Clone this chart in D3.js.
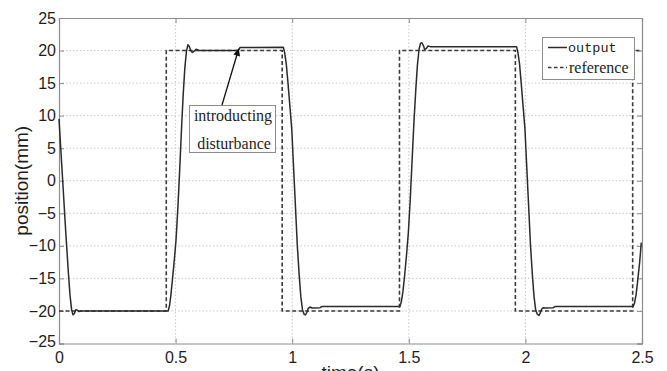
<!DOCTYPE html>
<html>
<head>
<meta charset="utf-8">
<script src="https://cdn.jsdelivr.net/npm/d3@7"></script>
<style>
  html, body { margin: 0; padding: 0; background: #fff; }
  svg { display: block; }
</style>
</head>
<body>
<svg id="chart" width="667" height="371"></svg>
<script>
// Tick values
const xTicks = [0, 0.5, 1, 1.5, 2, 2.5];
const xTickLabels = ["0", "0.5", "1", "1.5", "2", "2.5"];
const yTicks = [-25, -20, -15, -10, -5, 0, 5, 10, 15, 20, 25];

// Reference square wave (time in s, position in mm)
const refTime = [0, 0.46, 0.46, 0.957, 0.957, 1.46, 1.46, 1.957, 1.957, 2.46, 2.46, 2.5];
const refPos  = [-20, -20, 20, 20, -20, -20, 20, 20, -20, -20, 20, 20];

// Measured output position
const outTime = [
  0, 0.01, 0.02, 0.03, 0.04, 0.047, 0.054, 0.06, 0.066, 0.072, 0.079, 0.086, 0.095, 0.468,
  0.474, 0.48, 0.487, 0.495, 0.502, 0.51, 0.518, 0.526, 0.533, 0.54, 0.547, 0.553, 0.559,
  0.565, 0.572, 0.58, 0.588, 0.6, 0.769, 0.776, 0.962,
  0.968, 0.975, 0.982, 0.99, 0.998, 1.006, 1.014, 1.022, 1.03, 1.037, 1.044, 1.051, 1.057,
  1.063, 1.069, 1.076, 1.085, 1.12, 1.128, 1.462,
  1.468, 1.475, 1.482, 1.49, 1.498, 1.506, 1.514, 1.522, 1.53, 1.537, 1.544, 1.55, 1.556,
  1.562, 1.568, 1.575, 1.582, 1.592, 1.962,
  1.968, 1.975, 1.982, 1.99, 1.998, 2.006, 2.014, 2.022, 2.03, 2.037, 2.044, 2.051, 2.058,
  2.064, 2.07, 2.077, 2.085, 2.12, 2.128, 2.462,
  2.468, 2.475, 2.482, 2.49, 2.497
];
const outPos = [
  9.5, 3.5, -2.5, -8.5, -14, -17.5, -19.8, -20.6, -20.4, -19.8, -19.9, -20.1, -20, -20,
  -19.2, -17.5, -15, -12, -9, -4, 2, 8.5, 13.5, 17.5, 20, 20.9, 20.6,
  20.0, 19.7, 19.9, 20.2, 20, 20, 20.45, 20.5,
  19.6, 17.8, 15, 11.5, 8, 2, -4, -10, -14.5, -17.8, -19.8, -20.5, -20.6,
  -20.2, -19.6, -19.4, -19.55, -19.5, -19.3, -19.3,
  -18.6, -17, -14.6, -11.5, -8, -3, 3, 9, 14, 17.8, 20.2, 21.1, 21.2,
  20.8, 20.2, 20.3, 20.7, 20.6, 20.6,
  19.7, 17.9, 15, 11.5, 8, 2, -4, -10, -14.5, -17.8, -19.8, -20.5, -20.7,
  -20.3, -19.7, -19.5, -19.55, -19.5, -19.3, -19.3,
  -18.8, -17.4, -15.2, -12.5, -9.5
];

const legendLabels = ["output", "reference"];
const noteLines = ["introducting", "disturbance"];
const noteTarget = [0.775, 20.5];

const svg = d3.select("#chart");
const plot = { left: 59, right: 642, top: 18, bottom: 343.5 };

const x = d3.scaleLinear().domain([0, 2.5]).range([plot.left, plot.right]);
const y = d3.scaleLinear().domain([-25, 25]).range([plot.bottom, plot.top]);

const axisColor = "#8c8c8c";
const gridColor = "#c9c9c9";
const lineColor = "#2b2b2b";
const sansFont = "'Liberation Sans', Arial, sans-serif";
const serifFont = "'Liberation Serif', 'Times New Roman', serif";
const monoFont = "'Liberation Mono', 'Courier New', monospace";

// Grid lines
const grid = svg.append("g");
grid.selectAll("line.gx").data(xTicks.slice(1, -1)).enter().append("line")
  .attr("x1", d => x(d)).attr("x2", d => x(d))
  .attr("y1", plot.top).attr("y2", plot.bottom)
  .attr("stroke", gridColor).attr("stroke-width", 1).attr("stroke-dasharray", "1.5,2");
grid.selectAll("line.gy").data(yTicks.slice(1, -1)).enter().append("line")
  .attr("x1", plot.left).attr("x2", plot.right)
  .attr("y1", d => y(d)).attr("y2", d => y(d))
  .attr("stroke", gridColor).attr("stroke-width", 1).attr("stroke-dasharray", "1.5,2");

// Axes with inward ticks on all four sides
const bottomAxis = d3.axisBottom(x).tickValues(xTicks).tickSize(-5).tickFormat((d, i) => xTickLabels[i]);
const topAxis = d3.axisTop(x).tickValues(xTicks).tickSize(-5).tickFormat("");
const leftAxis = d3.axisLeft(y).tickValues(yTicks).tickSize(-5).tickFormat(d3.format("d"));
const rightAxis = d3.axisRight(y).tickValues(yTicks).tickSize(-5).tickFormat("");

function styleAxis(g) {
  g.select(".domain").attr("stroke", axisColor).attr("stroke-width", 1.2);
  g.selectAll(".tick line").attr("stroke", axisColor).attr("stroke-width", 1);
  g.selectAll(".tick text").attr("fill", "#1e1e1e")
    .style("font-family", sansFont).style("font-size", "16px");
}

const gB = svg.append("g").attr("transform", `translate(0,${plot.bottom})`).call(bottomAxis).call(styleAxis);
gB.selectAll(".tick text").attr("y", 8).attr("dy", "0.71em");
const gT = svg.append("g").attr("transform", `translate(0,${plot.top})`).call(topAxis).call(styleAxis);
const gL = svg.append("g").attr("transform", `translate(${plot.left},0)`).call(leftAxis).call(styleAxis);
gL.selectAll(".tick text").attr("x", -3);
gL.selectAll(".tick").filter(d => d === -25).select("text").attr("dy", "0.2em");
const gR = svg.append("g").attr("transform", `translate(${plot.right},0)`).call(rightAxis).call(styleAxis);
svg.selectAll(".domain").attr("fill", "none");

// Curves
const refData = refTime.map((t, i) => [t, refPos[i]]);
const outData = outTime.map((t, i) => [t, outPos[i]]);
const line = d3.line().x(d => x(d[0])).y(d => y(d[1]));

svg.append("path").datum(refData).attr("d", line)
  .attr("fill", "none").attr("stroke", "#3a3a3a").attr("stroke-width", 1.6)
  .attr("stroke-dasharray", "4,2.5");
svg.append("path").datum(outData).attr("d", line)
  .attr("fill", "none").attr("stroke", lineColor).attr("stroke-width", 1.5)
  .attr("stroke-linejoin", "round");

// Legend
const leg = svg.append("g");
leg.append("rect").attr("x", 542.5).attr("y", 37.5).attr("width", 92).attr("height", 42)
  .attr("fill", "#fff").attr("stroke", axisColor).attr("stroke-width", 1);
leg.append("line").attr("x1", 548).attr("x2", 567).attr("y1", 47.5).attr("y2", 47.5)
  .attr("stroke", lineColor).attr("stroke-width", 1.5);
leg.append("line").attr("x1", 548).attr("x2", 567).attr("y1", 67.5).attr("y2", 67.5)
  .attr("stroke", "#3a3a3a").attr("stroke-width", 1.5).attr("stroke-dasharray", "3.5,2.5");
leg.append("text").attr("x", 568).attr("y", 52).text(legendLabels[0])
  .attr("fill", "#1e1e1e").style("font-family", monoFont).style("font-size", "13.5px");
leg.append("text").attr("x", 569).attr("y", 72.5).text(legendLabels[1])
  .attr("fill", "#1e1e1e").style("font-family", serifFont).style("font-size", "16px");

// Annotation with arrow
const defs = svg.append("defs");
defs.append("marker").attr("id", "arrowHead").attr("viewBox", "0 0 10 10")
  .attr("refX", 10).attr("refY", 5).attr("markerWidth", 9).attr("markerHeight", 7)
  .attr("markerUnits", "userSpaceOnUse").attr("orient", "auto")
  .append("path").attr("d", "M0,0 L10,5 L0,10 Z").attr("fill", "#111");

const note = svg.append("g");
note.append("rect").attr("x", 189.5).attr("y", 105.5).attr("width", 86).attr("height", 47)
  .attr("fill", "#fff").attr("stroke", axisColor).attr("stroke-width", 1);
note.append("text").attr("x", 233).attr("y", 120.5).attr("text-anchor", "middle")
  .text(noteLines[0]).attr("fill", "#1e1e1e").style("font-family", serifFont).style("font-size", "16px");
note.append("text").attr("x", 234).attr("y", 148.5).attr("text-anchor", "middle")
  .text(noteLines[1]).attr("fill", "#1e1e1e").style("font-family", serifFont).style("font-size", "16px");
note.append("line").attr("x1", 222).attr("y1", 105)
  .attr("x2", x(noteTarget[0]) - 1).attr("y2", y(noteTarget[1]) + 1.5)
  .attr("stroke", "#111").attr("stroke-width", 1.3).attr("marker-end", "url(#arrowHead)");

// Axis titles
svg.append("text").attr("transform", `translate(28,${(plot.top + plot.bottom) / 2}) rotate(-90)`)
  .attr("text-anchor", "middle").text("position(mm)")
  .attr("fill", "#1e1e1e").style("font-family", sansFont).style("font-size", "19px");
svg.append("text").attr("x", (plot.left + plot.right) / 2).attr("y", 379)
  .attr("text-anchor", "middle").text("time(s)")
  .attr("fill", "#1e1e1e").style("font-family", sansFont).style("font-size", "19px");
</script>
</body>
</html>
